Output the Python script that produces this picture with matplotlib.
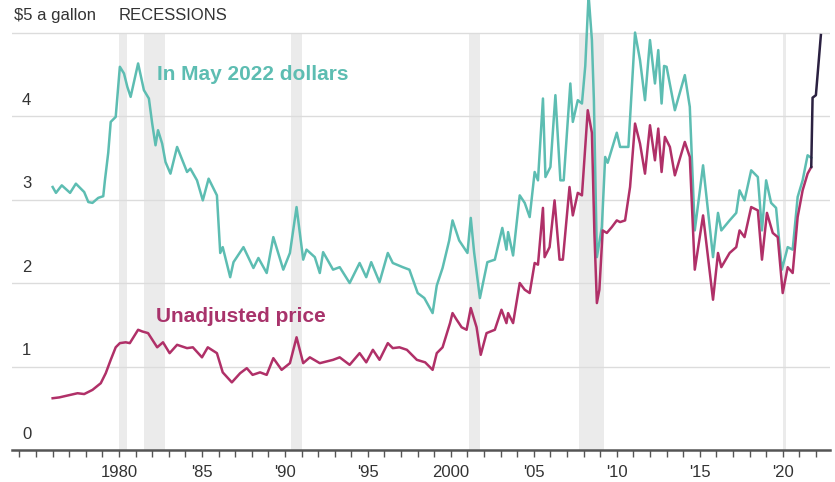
import numpy as np
import matplotlib
matplotlib.use("Agg")
import matplotlib.pyplot as plt
from matplotlib.ticker import MultipleLocator

plt.rcParams['font.family'] = ['Liberation Sans Narrow', 'Liberation Sans', 'DejaVu Sans']

# gasoline price, in May 2022 dollars
adj_years = [1976.0, 1976.2, 1976.55, 1977.05, 1977.4, 1977.9, 1978.15, 1978.4, 1978.75,
             1979.05, 1979.15, 1979.35, 1979.5, 1979.8, 1980.05, 1980.3, 1980.5, 1980.7,
             1981.15, 1981.5, 1981.8, 1982.0, 1982.2, 1982.35, 1982.6, 1982.8, 1983.1,
             1983.5, 1984.1, 1984.3, 1984.7, 1985.05, 1985.4, 1985.9, 1986.1, 1986.25,
             1986.7, 1986.9, 1987.5, 1988.1, 1988.4, 1988.9, 1989.3, 1989.9, 1990.3,
             1990.7, 1991.1, 1991.3, 1991.8, 1992.1, 1992.3, 1992.9, 1993.3, 1993.9,
             1994.5, 1994.9, 1995.2, 1995.7, 1996.2, 1996.5, 1997.1, 1997.5, 1998.0,
             1998.4, 1998.9, 1999.15, 1999.5, 1999.9, 2000.1, 2000.5, 2001.0, 2001.2,
             2001.4, 2001.75, 2002.2, 2002.65, 2003.1, 2003.35, 2003.45, 2003.75, 2004.15,
             2004.45, 2004.75, 2005.05, 2005.25, 2005.55, 2005.7, 2006.0, 2006.3, 2006.6,
             2006.8, 2007.2, 2007.35, 2007.65, 2007.9, 2008.1, 2008.3, 2008.5, 2008.62,
             2008.8, 2009.1, 2009.3, 2009.45, 2010.0, 2010.2, 2010.7, 2011.1, 2011.4,
             2011.7, 2012.0, 2012.3, 2012.5, 2012.7, 2012.85, 2013.0, 2013.5, 2014.1,
             2014.4, 2014.7, 2015.2, 2015.8, 2016.1, 2016.3, 2016.8, 2017.2, 2017.4,
             2017.7, 2018.1, 2018.5, 2018.75, 2019.0, 2019.3, 2019.6, 2019.95, 2020.3,
             2020.6, 2020.9, 2021.2, 2021.5, 2021.72]
adj_price = [3.15, 3.08, 3.17, 3.08, 3.19, 3.09, 2.97, 2.96, 3.02,
             3.04, 3.23, 3.56, 3.93, 3.99, 4.59, 4.51, 4.35, 4.23,
             4.63, 4.31, 4.21, 3.91, 3.65, 3.83, 3.67, 3.45, 3.31,
             3.63, 3.33, 3.37, 3.23, 2.99, 3.25, 3.05, 2.36, 2.43,
             2.07, 2.25, 2.43, 2.18, 2.30, 2.12, 2.55, 2.16, 2.36,
             2.91, 2.28, 2.40, 2.31, 2.12, 2.37, 2.16, 2.19, 2.00,
             2.24, 2.07, 2.25, 2.01, 2.36, 2.24, 2.19, 2.16, 1.88,
             1.82, 1.64, 1.97, 2.18, 2.51, 2.75, 2.51, 2.36, 2.78,
             2.37, 1.82, 2.25, 2.28, 2.66, 2.40, 2.61, 2.33, 3.05,
             2.96, 2.79, 3.33, 3.23, 4.21, 3.27, 3.39, 4.25, 3.23,
             3.23, 4.39, 3.93, 4.19, 4.15, 4.60, 5.45, 4.91, 4.19,
             2.31, 2.67, 3.51, 3.44, 3.80, 3.63, 3.63, 5.00, 4.67,
             4.19, 4.91, 4.39, 4.79, 4.15, 4.60, 4.59, 4.07, 4.49,
             4.11, 2.63, 3.41, 2.31, 2.84, 2.63, 2.75, 2.84, 3.11,
             2.99, 3.35, 3.27, 2.63, 3.23, 2.96, 2.90, 2.16, 2.43,
             2.40, 3.03, 3.23, 3.53, 3.50]

# unadjusted gasoline price
raw_years = [1976.0, 1976.4, 1977.05, 1977.5, 1977.9, 1978.4, 1978.9, 1979.2, 1979.5,
             1979.8, 1980.05, 1980.4, 1980.65, 1981.15, 1981.4, 1981.75, 1982.3, 1982.65,
             1983.05, 1983.5, 1984.1, 1984.45, 1985.0, 1985.35, 1985.9, 1986.25, 1986.8,
             1987.3, 1987.7, 1988.05, 1988.5, 1988.9, 1989.3, 1989.8, 1990.3, 1990.7,
             1991.1, 1991.5, 1992.1, 1992.9, 1993.3, 1993.9, 1994.5, 1994.9, 1995.3,
             1995.7, 1996.2, 1996.5, 1996.9, 1997.35, 1997.95, 1998.45, 1998.9, 1999.15,
             1999.5, 1999.95, 2000.1, 2000.35, 2000.65, 2000.95, 2001.2, 2001.55, 2001.8,
             2002.15, 2002.65, 2003.05, 2003.35, 2003.45, 2003.75, 2004.15, 2004.45, 2004.75,
             2005.05, 2005.25, 2005.55, 2005.65, 2005.95, 2006.25, 2006.55, 2006.75, 2007.15,
             2007.35, 2007.65, 2007.9, 2008.25, 2008.5, 2008.65, 2008.8, 2008.95, 2009.15,
             2009.4, 2009.7, 2010.0, 2010.2, 2010.5, 2010.8, 2011.1, 2011.4, 2011.7,
             2012.0, 2012.3, 2012.5, 2012.7, 2012.9, 2013.2, 2013.5, 2014.1, 2014.4,
             2014.7, 2015.2, 2015.8, 2016.1, 2016.3, 2016.8, 2017.2, 2017.4, 2017.7,
             2018.1, 2018.5, 2018.75, 2019.05, 2019.4, 2019.7, 2020.0, 2020.3, 2020.6,
             2020.9, 2021.2, 2021.5, 2021.72]
raw_price = [0.62, 0.63, 0.66, 0.68, 0.67, 0.72, 0.80, 0.92, 1.08,
             1.23, 1.28, 1.29, 1.28, 1.44, 1.42, 1.40, 1.23, 1.29,
             1.16, 1.26, 1.22, 1.23, 1.11, 1.23, 1.16, 0.93, 0.81,
             0.92, 0.98, 0.90, 0.93, 0.90, 1.10, 0.96, 1.04, 1.35,
             1.04, 1.11, 1.04, 1.08, 1.11, 1.02, 1.16, 1.05, 1.20,
             1.08, 1.28, 1.22, 1.23, 1.20, 1.08, 1.05, 0.96, 1.16,
             1.23, 1.52, 1.64, 1.56, 1.47, 1.44, 1.70, 1.47, 1.14,
             1.40, 1.44, 1.68, 1.52, 1.64, 1.52, 2.00, 1.92, 1.88,
             2.24, 2.22, 2.90, 2.31, 2.43, 2.99, 2.28, 2.28, 3.15,
             2.81, 3.08, 3.05, 4.07, 3.80, 2.60, 1.76, 1.92, 2.63,
             2.60, 2.67, 2.75, 2.73, 2.75, 3.15, 3.91, 3.67, 3.31,
             3.89, 3.47, 3.85, 3.33, 3.75, 3.63, 3.29, 3.69, 3.51,
             2.16, 2.81, 1.80, 2.36, 2.19, 2.36, 2.43, 2.63, 2.55,
             2.91, 2.87, 2.28, 2.84, 2.60, 2.55, 1.88, 2.19, 2.12,
             2.79, 3.11, 3.31, 3.39]

# latest months, where both series coincide
last_years = [2021.72, 2021.8, 2022.0, 2022.3]
last_price = [3.39, 4.22, 4.25, 4.97]

recessions = [(1980.0, 1980.5), (1981.5, 1982.8), (1990.35, 1991.0),
              (2001.1, 2001.75), (2007.75, 2009.25), (2020.0, 2020.2)]

teal = '#5dbdb2'
magenta = '#b03068'

fig = plt.figure(figsize=(8.35, 4.82), dpi=100)
ax = fig.add_axes([12 / 835, 32 / 482, 818 / 835, 450 / 482])
ymax = 5.39
ax.set_xlim(1973.55, 2022.85)
ax.set_ylim(0, ymax)

for a, b in recessions:
    ax.axvspan(a, b, ymin=0, ymax=5 / ymax, color='#ebebeb', lw=0, zorder=0)

for v in [1, 2, 3, 4, 5]:
    ax.axhline(v, color='#dcdcdc', lw=1, zorder=1)

ax.plot(adj_years, adj_price, color=teal, lw=1.8, zorder=3, solid_joinstyle='round')
ax.plot(raw_years, raw_price, color=magenta, lw=1.8, zorder=4, solid_joinstyle='round')
ax.plot(last_years, last_price, color='#2b2141', lw=1.8, zorder=5)

# y labels sit above the gridlines
for v in [0, 1, 2, 3, 4]:
    ax.text(1974.15, v + 0.1, str(v), fontsize=12, color='#333333', va='bottom', ha='left')
ax.text(1973.65, 5.12, '$5 a gallon', fontsize=12, color='#333333', va='bottom', ha='left')
ax.text(1980.0, 5.12, 'RECESSIONS', fontsize=12, color='#333333', va='bottom', ha='left')

ax.text(1982.3, 4.5, 'In May 2022 dollars', fontsize=15, fontweight='bold', color=teal,
        va='center', ha='left', family=['Liberation Sans', 'DejaVu Sans'])
ax.text(1982.2, 1.6, 'Unadjusted price', fontsize=15, fontweight='bold', color='#a8336b',
        va='center', ha='left', family=['Liberation Sans', 'DejaVu Sans'])

for s in ['top', 'right', 'left']:
    ax.spines[s].set_visible(False)
ax.spines['bottom'].set_color('#555555')
ax.spines['bottom'].set_linewidth(1.8)

ax.set_yticks([])
ax.set_xticks([1980, 1985, 1990, 1995, 2000, 2005, 2010, 2015, 2020])
ax.set_xticklabels(['1980', "'85", "'90", "'95", '2000', "'05", "'10", "'15", "'20"])
ax.xaxis.set_minor_locator(MultipleLocator(1))
ax.tick_params(axis='x', which='both', direction='out', length=5, width=1,
               color='#555555', labelsize=12, labelcolor='#333333', pad=6)

fig.savefig('out.png', dpi=100)
